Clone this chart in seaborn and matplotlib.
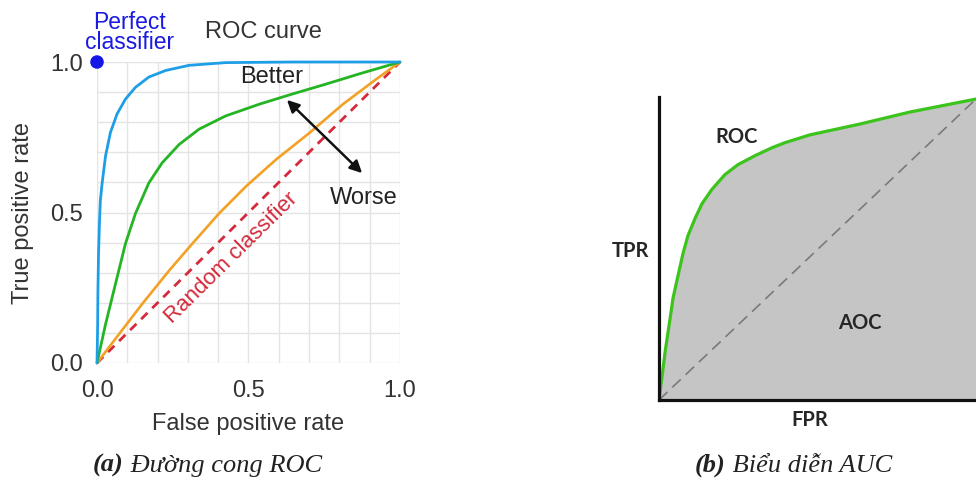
import numpy as np
import pandas as pd
import matplotlib.pyplot as plt
import seaborn as sns
from matplotlib.ticker import MultipleLocator

# ---- panel (a): ROC curves ----
blue_fpr = [0.0, 0.002, 0.003, 0.005, 0.008, 0.011, 0.017, 0.028, 0.044, 0.066, 0.094,
            0.127, 0.171, 0.227, 0.304, 0.425, 0.646, 1.0]
blue_tpr = [0.0, 0.12, 0.24, 0.36, 0.464, 0.54, 0.598, 0.687, 0.765, 0.827, 0.877,
            0.916, 0.95, 0.972, 0.989, 0.998, 1.0, 1.0]

green_fpr = [0.0, 0.028, 0.061, 0.094, 0.127, 0.171, 0.215, 0.271, 0.337, 0.425, 0.536,
             0.646, 0.757, 0.867, 1.0]
green_tpr = [0.0, 0.128, 0.263, 0.397, 0.497, 0.598, 0.665, 0.726, 0.777, 0.821, 0.86,
             0.894, 0.927, 0.961, 1.0]

orange_fpr = [0.0, 0.072, 0.149, 0.238, 0.315, 0.403, 0.492, 0.591, 0.702, 0.812, 0.923, 1.0]
orange_tpr = [0.0, 0.095, 0.196, 0.307, 0.397, 0.497, 0.587, 0.676, 0.765, 0.86, 0.944, 1.0]

random_rate = [0.0, 1.0]
ticks = [0.0, 0.5, 1.0]
tick_labels = ["0.0", "0.5", "1.0"]

# ---- panel (b): AUC illustration ----
auc_fpr = [0.0, 0.013, 0.019, 0.035, 0.044, 0.06, 0.076, 0.091, 0.114, 0.136, 0.167,
           0.208, 0.249, 0.303, 0.356, 0.397, 0.476, 0.634, 0.792, 1.0]
auc_tpr = [0.0, 0.106, 0.158, 0.271, 0.337, 0.413, 0.488, 0.545, 0.604, 0.653, 0.7,
           0.749, 0.782, 0.812, 0.838, 0.855, 0.881, 0.917, 0.957, 1.0]

captions = ["(a)", " Đường cong ROC", "(b)", " Biểu diễn AUC"]


def plot_roc_panel(ax):
    ax.set_xlim(0, 1)
    ax.set_ylim(0, 1)
    for s in ax.spines.values():
        s.set_visible(False)

    # light grid every 0.1
    ax.xaxis.set_minor_locator(MultipleLocator(0.1))
    ax.yaxis.set_minor_locator(MultipleLocator(0.1))
    ax.grid(which='both', color='#e4e4e4', lw=1.0)
    ax.set_axisbelow(True)

    sns.lineplot(x=random_rate, y=random_rate, ax=ax, color='#d42a3c', lw=2.0,
                 linestyle=(0, (3.2, 2.4)), clip_on=False)
    sns.lineplot(x=orange_fpr, y=orange_tpr, ax=ax, color='#f2a124', lw=1.9,
                 sort=False, estimator=None, clip_on=False)
    sns.lineplot(x=green_fpr, y=green_tpr, ax=ax, color='#24b424', lw=2.0,
                 sort=False, estimator=None, clip_on=False)
    sns.lineplot(x=blue_fpr, y=blue_tpr, ax=ax, color='#1e9ee6', lw=2.0,
                 sort=False, estimator=None, clip_on=False)
    sns.scatterplot(x=[0.0], y=[1.0], ax=ax, color='#1515e6', s=95,
                    edgecolor='none', clip_on=False, zorder=5)

    ax.set_xticks(ticks)
    ax.set_xticklabels(tick_labels)
    ax.set_yticks(ticks)
    ax.set_yticklabels(tick_labels)
    ax.tick_params(which='both', length=0, labelsize=17, labelcolor='#333333')
    ax.tick_params(axis='x', pad=12)
    ax.tick_params(axis='y', pad=10)
    ax.set_xlabel('False positive rate', fontsize=17, color='#333333', labelpad=8)
    ax.set_ylabel('True positive rate', fontsize=17, color='#333333', labelpad=12)

    ax.text(0.548, 1.1, 'ROC curve', fontsize=17, color='#333333', ha='center', va='center')
    ax.text(0.106, 1.098, 'Perfect\nclassifier', fontsize=16.5, color='#1a1ae0',
            ha='center', va='center', linespacing=0.85)
    ax.text(0.578, 0.95, 'Better', fontsize=17, color='#222222', ha='center', va='center')
    ax.text(0.881, 0.548, 'Worse', fontsize=17, color='#222222', ha='center', va='center')
    ax.text(0.442, 0.349, 'Random classifier', fontsize=16, color='#d42a3c',
            ha='center', va='center', rotation=44.5, rotation_mode='anchor')

    ax.annotate('', xy=(0.627, 0.874), xytext=(0.875, 0.631),
                arrowprops=dict(arrowstyle='<|-|>', color='#111111', lw=1.8,
                                mutation_scale=18, shrinkA=0, shrinkB=0))


def plot_auc_panel(ax):
    ax.set_xlim(0, 1)
    ax.set_ylim(0, 1.007)
    ax.fill_between(auc_fpr, auc_tpr, color='#c5c5c5', lw=0)
    sns.lineplot(x=random_rate, y=random_rate, ax=ax, color='#7a7a7a', lw=1.2,
                 linestyle=(0, (7, 4)))
    sns.lineplot(x=auc_fpr, y=auc_tpr, ax=ax, color='#3cc41c', lw=2.3,
                 sort=False, estimator=None)

    for side in ['top', 'right']:
        ax.spines[side].set_visible(False)
    for side in ['left', 'bottom']:
        ax.spines[side].set_color('#111111')
        ax.spines[side].set_linewidth(2.3)
    ax.set_xticks([])
    ax.set_yticks([])

    font = dict(family=['Lato', 'DejaVu Sans'], fontweight='bold', fontsize=14.5, color='#262626')
    ax.text(0.246, 0.875, 'ROC', ha='center', va='center', **font)
    ax.text(0.634, 0.257, 'AOC', ha='center', va='center', **font)
    ax.text(-0.09, 0.495, 'TPR', ha='center', va='center', **font)
    ax.text(0.476, -0.066, 'FPR', ha='center', va='center', **font)


def main():
    sns.set_style('white')
    plt.rcParams['font.family'] = ['Liberation Sans', 'DejaVu Sans']

    fig = plt.figure(figsize=(9.76, 4.86), dpi=100)
    ax1 = fig.add_axes([0.0994, 0.2531, 0.3104, 0.6193])
    ax2 = fig.add_axes([0.6752, 0.177, 0.3248, 0.6235])

    plot_roc_panel(ax1)
    plot_auc_panel(ax2)

    # captions under each panel: bold label then italic text
    serif = ['Liberation Serif', 'DejaVu Serif']
    for x0, i in [(93 / 976, 0), (695 / 976, 2)]:
        t = fig.text(x0, 0.0288, captions[i], fontsize=19, family=serif, style='italic',
                     fontweight='bold', color='#222222', ha='left', va='baseline')
        ax1.annotate(captions[i + 1], xy=(1, 0), xycoords=t, fontsize=19, family=serif,
                     style='italic', color='#222222', ha='left', va='bottom',
                     annotation_clip=False)

    fig.savefig('out.png', dpi=100)


if __name__ == "__main__":
    main()
